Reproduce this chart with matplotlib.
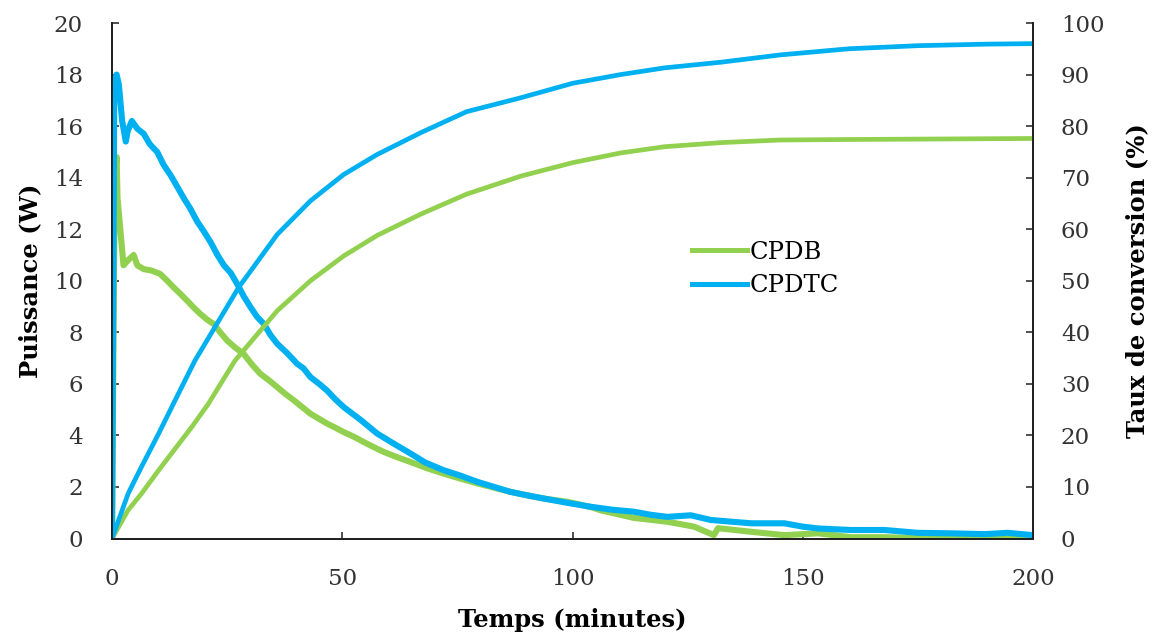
import matplotlib
matplotlib.use('Agg')
import matplotlib.pyplot as plt
from matplotlib.lines import Line2D

# power (W) curves
t_pw_cpdtc = [0, 0.5, 1.0, 1.5, 2.2, 3.0, 3.4, 4.3, 5.5, 6.9, 8.2, 9.8, 11.2, 12.7, 14.0,
              15.6, 17.0, 18.5, 20.0, 21.4, 22.9, 24.3, 25.8, 27.2, 28.6, 30.1, 31.5, 33.0,
              34.4, 35.9, 38.0, 40.2, 41.6, 43.1, 45.0, 46.7, 48.5, 50.3, 54.0, 57.6, 61.0,
              64.8, 68.0, 72.0, 75.5, 79.3, 83.0, 86.5, 90.0, 93.8, 99.0, 104, 108.5, 113.3,
              117, 120.6, 125.7, 130, 134, 138.8, 146, 150, 153.3, 160.5, 167.7, 175, 182.2,
              189.5, 194.5, 200]
pw_cpdtc = [0, 17.5, 18.0, 17.6, 16.2, 15.4, 15.8, 16.2, 15.9, 15.7, 15.3, 15.0, 14.5, 14.1,
            13.7, 13.2, 12.8, 12.3, 11.9, 11.5, 11.0, 10.6, 10.3, 9.87, 9.4, 8.97, 8.6, 8.32,
            7.9, 7.55, 7.2, 6.78, 6.6, 6.26, 6.0, 5.74, 5.4, 5.10, 4.6, 4.07, 3.7, 3.30, 2.95,
            2.65, 2.45, 2.20, 2.0, 1.81, 1.68, 1.55, 1.38, 1.23, 1.12, 1.04, 0.92, 0.84, 0.9,
            0.72, 0.66, 0.59, 0.59, 0.46, 0.39, 0.33, 0.33, 0.22, 0.2, 0.17, 0.22, 0.13]

t_pw_cpdb = [0, 0.6, 1.0, 1.2, 1.8, 2.5, 3.5, 4.7, 5.5, 6.9, 8.5, 10.5, 12.0, 13.4, 14.8,
             16.3, 17.8, 19.2, 20.6, 22.1, 23.5, 25.0, 26.8, 28.6, 30.4, 32.2, 34.0, 35.9,
             37.7, 39.5, 41.3, 43.1, 44.9, 46.7, 48.5, 50.3, 52.5, 54.7, 56.8, 59.0, 62.0,
             64.8, 68.5, 72.0, 75.5, 79.3, 83.0, 86.5, 90.0, 93.8, 99.0, 104, 106, 113.3,
             120.6, 126.4, 130.7, 131.6, 138.8, 146, 153.3, 160.5, 167.7, 178.6, 200]
pw_cpdb = [0, 14.0, 14.8, 13.2, 12.0, 10.6, 10.8, 11.0, 10.6, 10.45, 10.4, 10.26, 10.0, 9.74,
           9.5, 9.23, 8.95, 8.71, 8.5, 8.32, 8.0, 7.68, 7.4, 7.16, 6.75, 6.39, 6.15, 5.87, 5.6,
           5.36, 5.1, 4.84, 4.65, 4.46, 4.3, 4.13, 3.95, 3.74, 3.55, 3.36, 3.15, 2.97, 2.72,
           2.52, 2.33, 2.14, 1.97, 1.81, 1.68, 1.55, 1.42, 1.22, 1.1, 0.80, 0.65, 0.46, 0.13,
           0.40, 0.26, 0.13, 0.2, 0.05, 0.05, 0.0, 0.0]

# conversion (%) curves
t_cv_cpdtc = [0, 3.5, 6.4, 10.1, 13.7, 18.0, 27.5, 35.9, 43.1, 50.3, 57.6, 67, 77, 88.8,
              100, 110.5, 120, 132.3, 145, 160, 175, 190, 200]
cv_cpdtc = [0, 8.7, 13.9, 20.3, 26.8, 34.5, 48.7, 59.0, 65.5, 70.6, 74.5, 78.7, 82.8, 85.5,
            88.3, 90.0, 91.3, 92.4, 93.8, 95.0, 95.6, 95.9, 96.0]

t_cv_cpdb = [0, 3.5, 6.4, 10.1, 13.7, 17.3, 20.9, 26.7, 28.6, 35.9, 43.1, 50.3, 57.6, 67, 77,
             88.8, 100, 110.5, 120, 132.3, 145, 160, 180, 200]
cv_cpdb = [0, 5.5, 8.7, 13.2, 17.4, 21.6, 26.1, 34.5, 36.5, 44.2, 50.0, 54.8, 58.8, 62.9,
           66.8, 70.3, 72.9, 74.8, 76.0, 76.8, 77.3, 77.4, 77.5, 77.6]

green = '#92D050'
blue = '#00B0F0'
plt.rcParams['font.family'] = 'DejaVu Serif'

fig = plt.figure(figsize=(11.56, 6.32), dpi=100)
ax = fig.add_axes([112 / 1156, 1 - 538.5 / 632, (1033 - 112) / 1156, (538.5 - 23) / 632])
ax2 = ax.twinx()

ax.plot(t_pw_cpdb, pw_cpdb, color=green, lw=4.4, solid_joinstyle='round', zorder=2)
ax.plot(t_pw_cpdtc, pw_cpdtc, color=blue, lw=4.4, solid_joinstyle='round', zorder=3)
ax2.plot(t_cv_cpdb, cv_cpdb, color=green, lw=3.4)
ax2.plot(t_cv_cpdtc, cv_cpdtc, color=blue, lw=3.4)

ax.set_xlim(0, 200)
ax.set_ylim(0, 20)
ax2.set_ylim(0, 100)
ax.set_xticks(range(0, 201, 50))
ax.set_yticks(range(0, 21, 2))
ax2.set_yticks(range(0, 101, 10))

for a in (ax, ax2):
    a.spines['top'].set_visible(False)
    for s in ('left', 'right', 'bottom'):
        a.spines[s].set_linewidth(1.3)
        a.spines[s].set_color('#202020')
ax.tick_params(axis='both', direction='in', length=5, width=1.1, labelsize=16.5,
               colors='#202020', labelcolor='#333333')
ax.tick_params(axis='y', pad=21)
ax.tick_params(axis='x', pad=21)
ax2.tick_params(axis='y', direction='in', length=5, width=1.1, labelsize=16.5, pad=20,
                colors='#202020', labelcolor='#333333')

ax.set_xlabel('Temps (minutes)', fontsize=17.5, fontweight='bold', labelpad=13)
ax.set_ylabel('Puissance (W)', fontsize=17.5, fontweight='bold', labelpad=8)
ax2.set_ylabel('Taux de conversion (%)', fontsize=17.5, fontweight='bold', labelpad=15)

handles = [Line2D([], [], color=green, lw=3.6), Line2D([], [], color=blue, lw=3.6)]
fig.legend(handles, ['CPDB', 'CPDTC'], loc='upper left',
           bbox_to_anchor=(692 / 1156, 1 - 241 / 632), frameon=False, fontsize=17.5,
           handlelength=2.25, handletextpad=0.12, labelspacing=0.42, borderpad=0,
           borderaxespad=0)

fig.savefig('out.png', dpi=100)
